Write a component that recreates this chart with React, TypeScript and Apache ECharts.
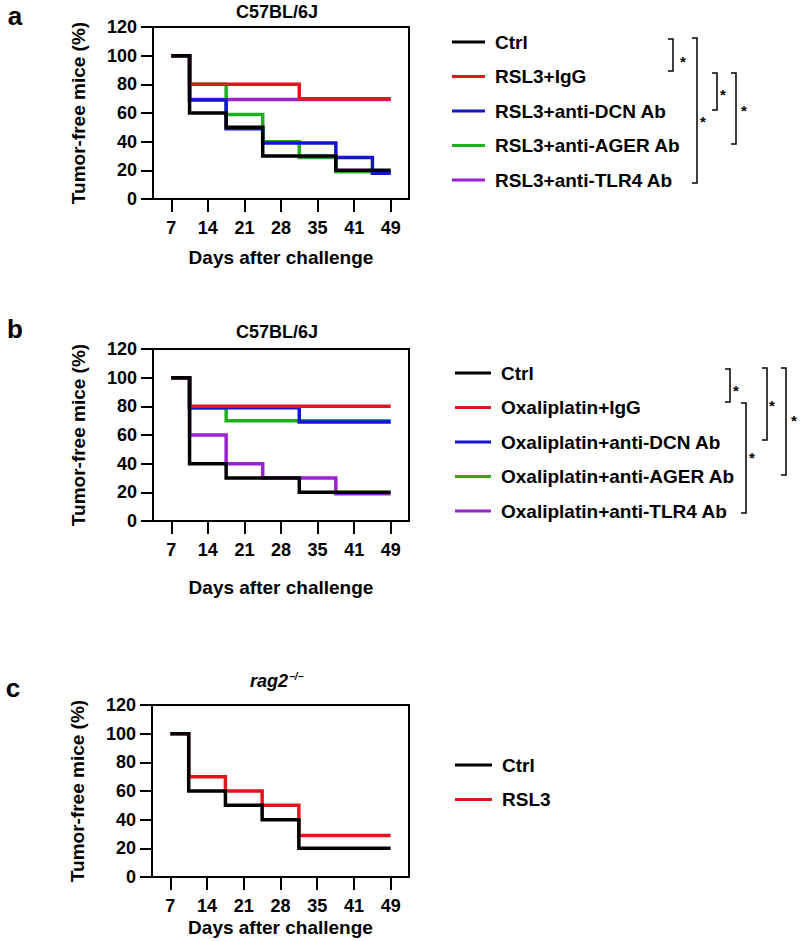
import React, { useEffect, useRef } from "react";
import * as echarts from "echarts";

// ---------- data ----------
const xTickLabels = ["7", "14", "21", "28", "35", "41", "49"];
const yTicks = { min: 0, max: 120, interval: 20 };

// x positions are in tick-slot units (0 = day 7 ... 6 = day 49)
// Panel a
const aNames = ["Ctrl", "RSL3+IgG", "RSL3+anti-DCN Ab", "RSL3+anti-AGER Ab", "RSL3+anti-TLR4 Ab"];
const aCtrl = [[0, 100], [0.5, 60], [1.5, 50], [2.5, 30], [4.5, 20], [6, 20]];
const aIgG = [[0, 100], [0.5, 80], [3.5, 70], [6, 70]];
const aDCN = [[0, 100], [0.5, 69], [1.5, 49], [2.5, 39], [4.5, 29], [5.5, 18], [6, 18]];
const aAGER = [[0, 100], [0.5, 80], [1.5, 59], [2.5, 40], [3.5, 29], [4.5, 19], [6, 19]];
const aTLR4 = [[0, 100], [0.5, 69.5], [6, 69.5]];

// Panel b
const bNames = ["Ctrl", "Oxaliplatin+IgG", "Oxaliplatin+anti-DCN Ab", "Oxaliplatin+anti-AGER Ab", "Oxaliplatin+anti-TLR4 Ab"];
const bCtrl = [[0, 100], [0.5, 40], [1.5, 30], [3.5, 20], [6, 20]];
const bIgG = [[0, 100], [0.5, 80], [6, 80]];
const bDCN = [[0, 100], [0.5, 79], [3.5, 69], [6, 69]];
const bAGER = [[0, 100], [0.5, 79], [1.5, 70], [6, 70]];
const bTLR4 = [[0, 100], [0.5, 60], [1.5, 40], [2.5, 30], [4.5, 19], [6, 19]];

// Panel c
const cNames = ["Ctrl", "RSL3"];
const cCtrl = [[0, 100], [0.5, 60], [1.5, 50], [2.5, 40], [3.5, 20], [6, 20]];
const cRSL3 = [[0, 100], [0.5, 70], [1.5, 60], [2.5, 50], [3.5, 29], [6, 29]];

const panelTitles = ["C57BL/6J", "C57BL/6J"];
const xAxisTitle = "Days after challenge";
const yAxisTitle = "Tumor-free mice (%)";

// ---------- style ----------
const FONT = "'Liberation Sans', Arial, Helvetica, sans-serif";
const COLORS = { ctrl: "#000000", igg: "#e3141c", dcn: "#1414d2", ager: "#1fb01f", tlr4: "#9a22d4" };

const grids = [
  { left: 153, top: 27, width: 256, height: 172, nameGap: 49 },
  { left: 153, top: 349, width: 256, height: 172, nameGap: 57 },
  { left: 152, top: 705, width: 257, height: 172, nameGap: 41 },
];

function makeXAxis(i: number) {
  return {
    type: "value",
    gridIndex: i,
    min: -0.5,
    max: 6.5,
    name: xAxisTitle,
    nameLocation: "middle",
    nameGap: grids[i].nameGap,
    nameTextStyle: { fontFamily: FONT, fontWeight: "bold", fontSize: 19, color: "#000" },
    axisLine: { show: true, onZero: false, lineStyle: { color: "#000", width: 2 } },
    axisTick: {
      show: true,
      length: 13,
      lineStyle: { color: "#000", width: 2 },
      customValues: xTickLabels.map((_, k) => k),
    },
    axisLabel: {
      show: true,
      margin: 20,
      customValues: xTickLabels.map((_, k) => k),
      formatter: (v: number) => xTickLabels[Math.round(v)] ?? "",
      fontFamily: FONT,
      fontWeight: "bold",
      fontSize: 18,
      color: "#000",
    },
    splitLine: { show: false },
  };
}

function makeYAxis(i: number) {
  return {
    type: "value",
    gridIndex: i,
    min: yTicks.min,
    max: yTicks.max,
    interval: yTicks.interval,
    name: yAxisTitle,
    nameLocation: "middle",
    nameGap: 65,
    nameTextStyle: { fontFamily: FONT, fontWeight: "bold", fontSize: 19, color: "#000" },
    axisLine: { show: true, onZero: false, lineStyle: { color: "#000", width: 2 } },
    axisTick: { show: true, length: 12, lineStyle: { color: "#000", width: 2 } },
    axisLabel: { margin: 16, fontFamily: FONT, fontWeight: "bold", fontSize: 18, color: "#000" },
    splitLine: { show: false },
  };
}

function makeSeries(name: string, data: number[][], color: string, i: number) {
  return {
    type: "line",
    name,
    xAxisIndex: i,
    yAxisIndex: i,
    step: "end",
    symbol: "none",
    showSymbol: false,
    color,
    lineStyle: { color, width: 3.5, join: "miter", cap: "butt" },
    data,
    silent: true,
  };
}

function makeLegend(names: string[], left: number, top: number, itemWidth: number) {
  return {
    orient: "vertical",
    left,
    top,
    icon: "rect",
    itemWidth,
    itemHeight: 3,
    itemGap: 14.5,
    selectedMode: false,
    padding: 0,
    textStyle: {
      fontFamily: FONT,
      fontWeight: "bold",
      fontSize: 19,
      color: "#000",
      lineHeight: 20,
      padding: [0, 0, 0, 5],
    },
    data: names,
  };
}

function bracket(x: number, y1: number, y2: number, sx: number, sy: number) {
  return [
    {
      type: "polyline",
      shape: { points: [[x - 5, y1], [x, y1], [x, y2], [x - 5, y2]] },
      style: { stroke: "#000", lineWidth: 1.5, fill: null },
    },
    {
      type: "text",
      x: sx,
      y: sy + 3,
      style: { text: "*", fontFamily: FONT, fontSize: 15, fontWeight: "bold", fill: "#000", align: "center", verticalAlign: "middle" },
    },
  ];
}

function label(text: string, x: number, y: number, size: number, extra: any = {}) {
  return {
    type: "text",
    x,
    y,
    style: {
      text,
      fontFamily: FONT,
      fontWeight: "bold",
      fontSize: size,
      fill: "#000",
      align: "center",
      verticalAlign: "middle",
      ...extra,
    },
  };
}

export default function App() {
  const ref = useRef<HTMLDivElement>(null);

  useEffect(() => {
    document.body.style.margin = "0";
    if (!ref.current) return;
    const chart = echarts.init(ref.current, null, { renderer: "svg" });

    const option: any = {
      animation: false,
      backgroundColor: "#ffffff",
      grid: grids.map((g) => ({
        left: g.left,
        top: g.top,
        width: g.width,
        height: g.height,
        show: true,
        borderColor: "#000",
        borderWidth: 2,
        backgroundColor: "transparent",
        containLabel: false,
        outerBoundsMode: "none",
      })),
      xAxis: [0, 1, 2].map(makeXAxis),
      yAxis: [0, 1, 2].map(makeYAxis),
      legend: [
        makeLegend(aNames, 452, 32, 33),
        makeLegend(bNames, 455, 363, 36),
        makeLegend(cNames, 455, 755, 37),
      ],
      series: [
        makeSeries(aNames[4], aTLR4, COLORS.tlr4, 0),
        makeSeries(aNames[3], aAGER, COLORS.ager, 0),
        makeSeries(aNames[2], aDCN, COLORS.dcn, 0),
        makeSeries(aNames[1], aIgG, COLORS.igg, 0),
        makeSeries(aNames[0], aCtrl, COLORS.ctrl, 0),

        makeSeries(bNames[4], bTLR4, COLORS.tlr4, 1),
        makeSeries(bNames[3], bAGER, COLORS.ager, 1),
        makeSeries(bNames[2], bDCN, COLORS.dcn, 1),
        makeSeries(bNames[1], bIgG, COLORS.igg, 1),
        makeSeries(bNames[0], bCtrl, COLORS.ctrl, 1),

        makeSeries(cNames[1], cRSL3, COLORS.igg, 2),
        makeSeries(cNames[0], cCtrl, COLORS.ctrl, 2),
      ],
      graphic: [
        // panel letters
        label("a", 15, 16, 26),
        label("b", 15, 329, 26),
        label("c", 13, 688, 26),
        // titles
        label(panelTitles[0], 277, 12, 18),
        label(panelTitles[1], 277, 332, 18),
        label("rag2", 288, 681, 18, { align: "right", fontStyle: "italic" }),
        label("\u2212/\u2212", 289, 676, 10, { align: "left", fontStyle: "italic" }),
        // significance brackets, panel a
        ...bracket(673, 39, 71, 683, 58),
        ...bracket(697, 38, 183, 703, 118),
        ...bracket(717, 73, 110, 723, 91),
        ...bracket(736, 73, 144, 744, 107),
        // significance brackets, panel b
        ...bracket(730, 369, 402, 736, 387),
        ...bracket(746, 403, 513, 752, 454),
        ...bracket(767, 368, 440, 772, 402),
        ...bracket(786, 368, 475, 794, 417),
      ],
    };

    chart.setOption(option);
    return () => chart.dispose();
  }, []);

  return <div ref={ref} style={{ width: 800, height: 941 }} />;
}
